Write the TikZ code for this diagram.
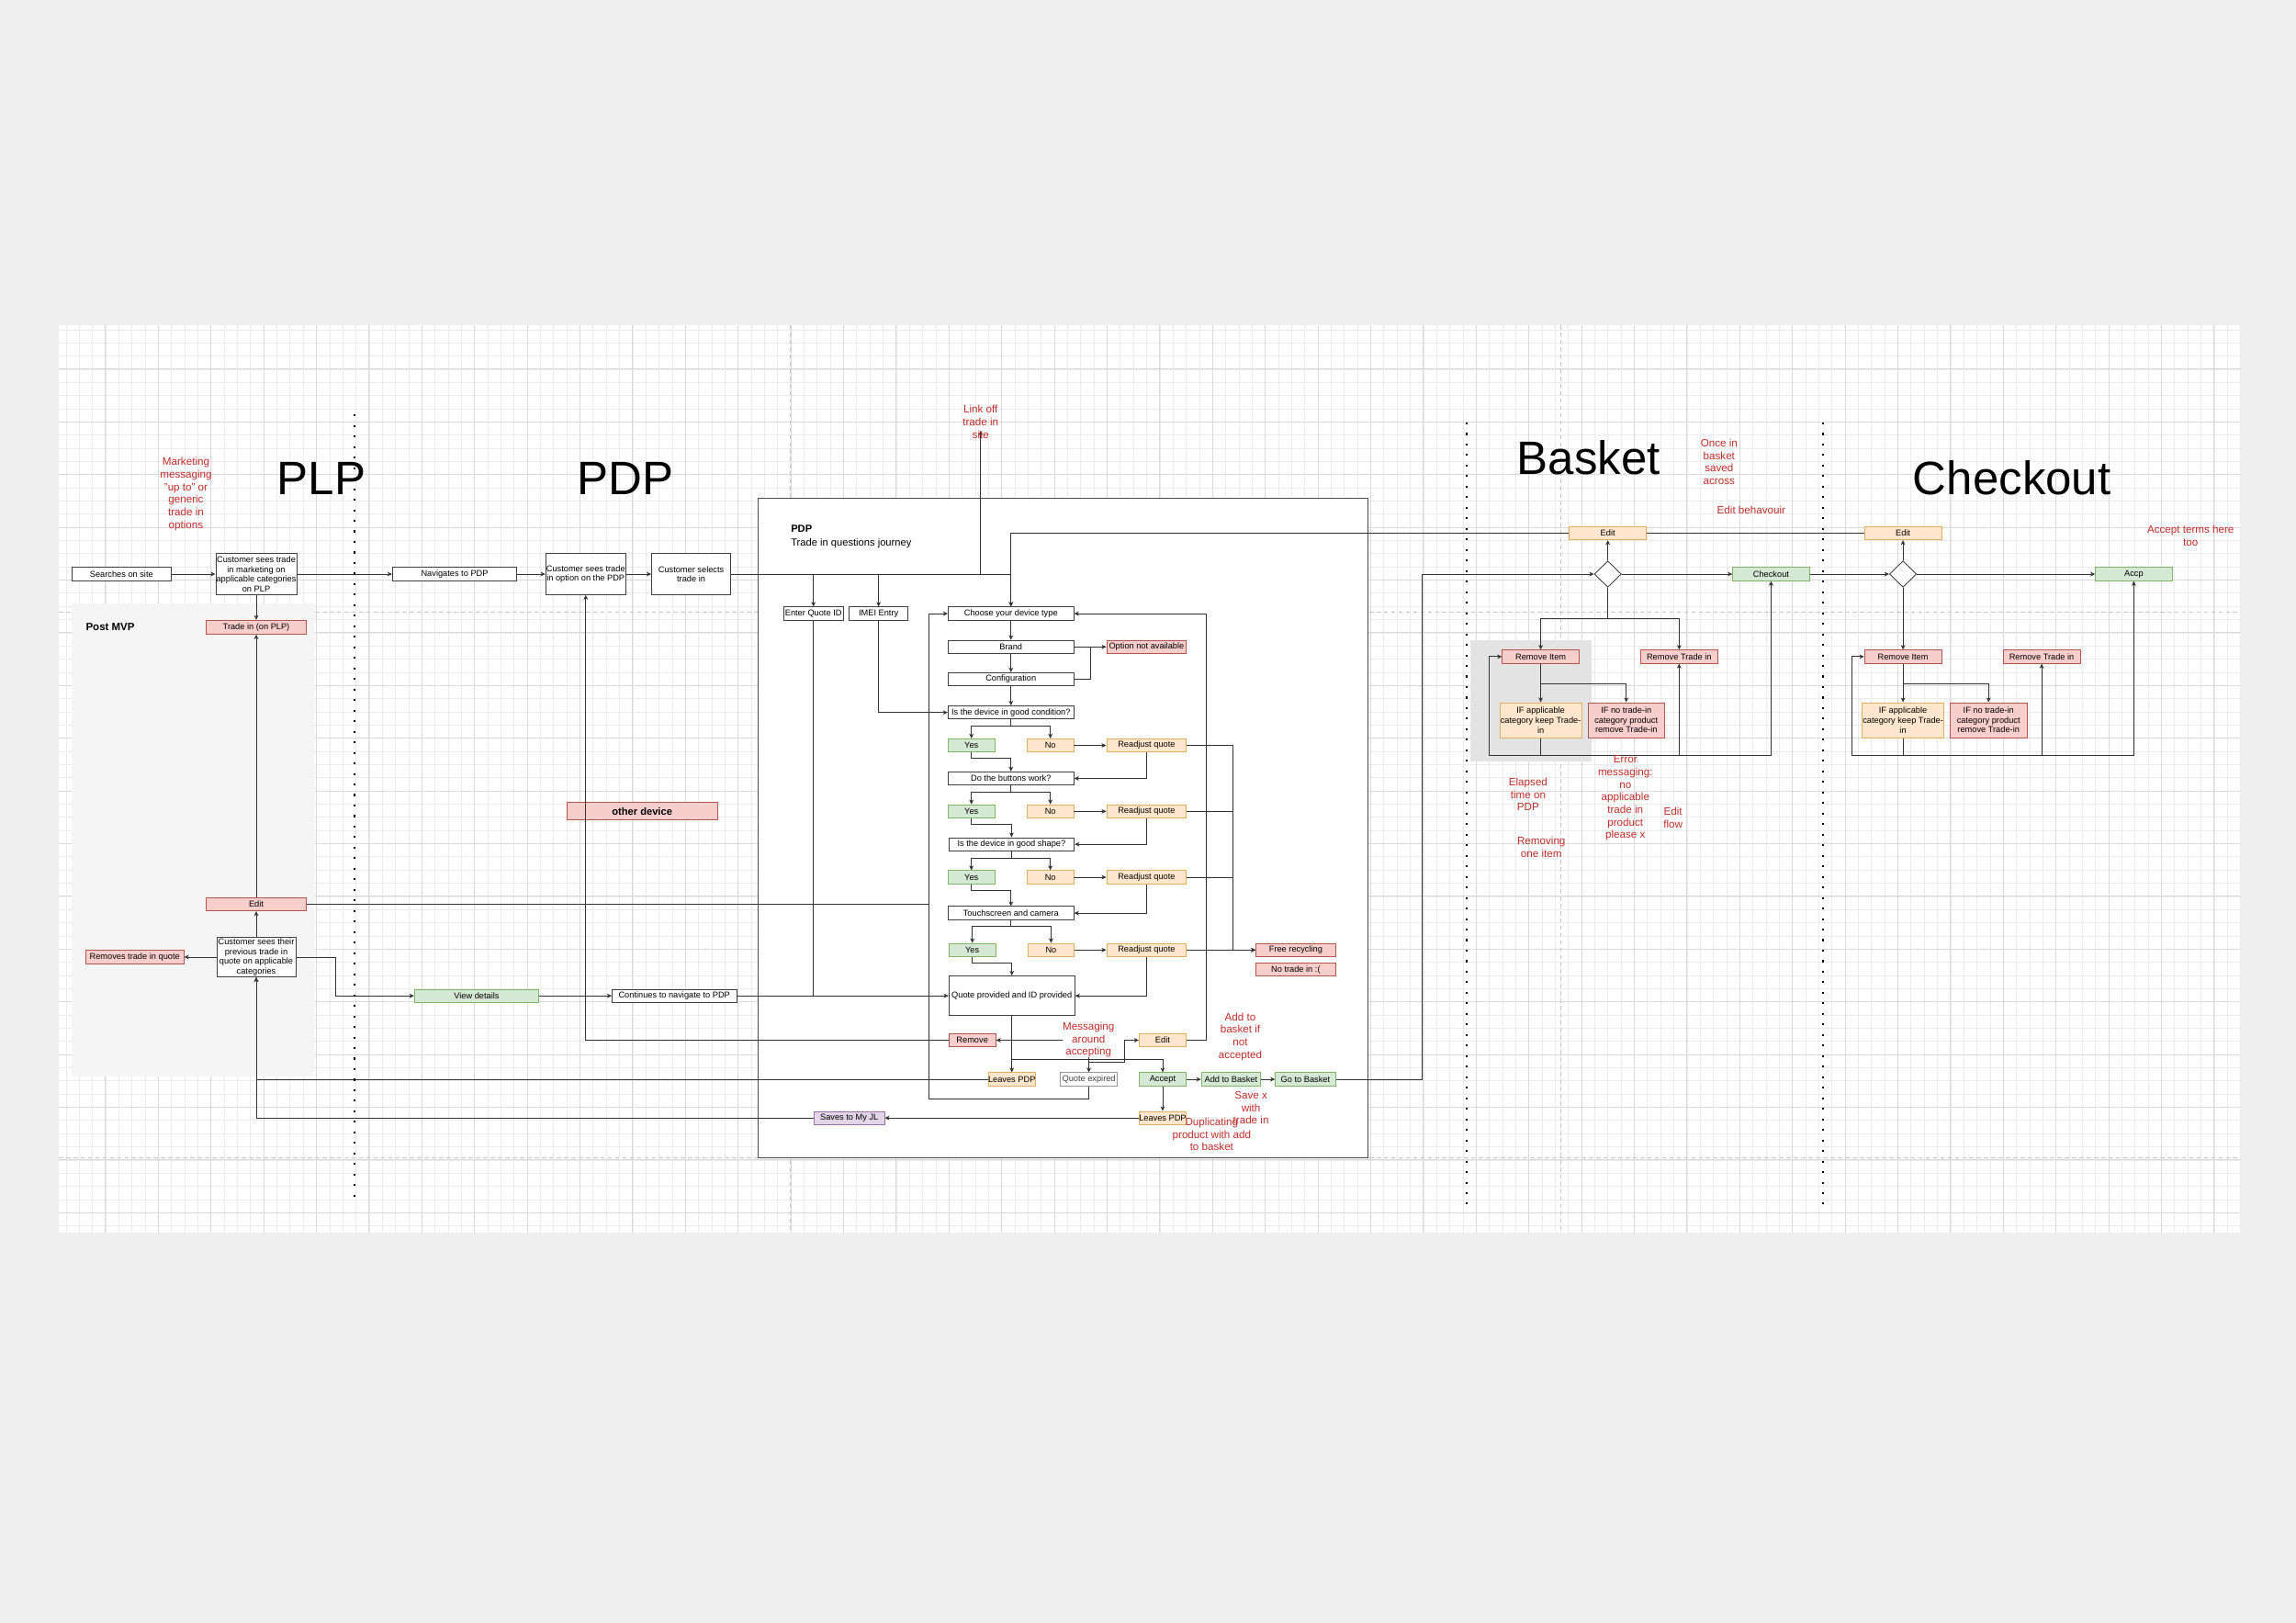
\documentclass[tikz,border=0pt]{standalone}
\usepackage{fontspec}
\setmainfont{Liberation Sans}
\usetikzlibrary{arrows.meta,calc,shapes.geometric}

\definecolor{pagebg}{HTML}{EFEFEF}
\definecolor{pinkfill}{HTML}{F8CECC}
\definecolor{pinkline}{HTML}{B85450}
\definecolor{peachfill}{HTML}{FFE6CC}
\definecolor{peachline}{HTML}{E0B060}
\definecolor{greenfill}{HTML}{D5E8D4}
\definecolor{greenline}{HTML}{82B366}
\definecolor{lilacfill}{HTML}{E1D5E7}
\definecolor{lilacline}{HTML}{9673A6}
\definecolor{notered}{HTML}{BE2D2D}
\definecolor{mvpgray}{HTML}{F5F5F5}
\definecolor{zonegray}{HTML}{E3E3E3}

\begin{document}
\begin{tikzpicture}[x=1pt,y=-1pt,>={Stealth[length=3.2pt,width=3pt,inset=0.9pt]},
  flowbox/.style={draw=black!75,fill=white,line width=0.55pt,inner sep=0.4pt,minimum height=9pt,align=center,font=\fontsize{5.8}{6.6}\selectfont},
  pinkbox/.style={flowbox,draw=pinkline,fill=pinkfill},
  peachbox/.style={flowbox,draw=peachline,fill=peachfill},
  greenbox/.style={flowbox,draw=greenline,fill=greenfill},
  lilacbox/.style={flowbox,draw=lilacline,fill=lilacfill},
  choice/.style={diamond,draw=black!75,fill=white,line width=0.55pt,minimum width=18.4pt,minimum height=18pt,inner sep=0pt},
  rednote/.style={text=notered,align=center,inner sep=0pt,font=\fontsize{7.3}{8.6}\selectfont},
  bigtitle/.style={anchor=base,inner sep=0pt,font=\fontsize{32}{36}\selectfont},
  wire/.style={draw=black!80,line width=0.55pt},
  pagebreak/.style={draw=black!22,line width=0.6pt,dash pattern=on 3pt off 2pt},
  lanedots/.style={draw=black,line width=1.3pt,dash pattern=on 1.3pt off 5.9pt}]
\fill[pagebg] (0,0) rectangle (1568,1108);
\useasboundingbox (0,0) rectangle (1568,1108);
\fill[white] (40,222) rectangle (1530,842);
\draw[black!8,line width=0.3pt,step=9pt] (40,842) grid (1530,222);
\draw[black!15,line width=0.4pt,step=36pt] (40,842) grid (1530,222);
\draw[pagebreak] (40,418) -- (1530,418);
\draw[pagebreak] (40,790.3) -- (1530,790.3);
\draw[pagebreak] (539.5,222) -- (539.5,842);
\draw[pagebreak] (1066,222) -- (1066,842);
\fill[mvpgray] (49,412) rectangle (215.3,735);
\fill[zonegray] (1004,437.4) rectangle (1087,520);
\node[draw=black!70,fill=white,line width=0.6pt,minimum width=417pt,minimum height=450.3pt,inner sep=0pt] (pdpbox) at (726,565.15) {};

\node[bigtitle] (plptitle) at (219.5,337.5) {PLP};
\node[bigtitle] (pdptitle) at (427,337.5) {PDP};
\node[bigtitle] (baskettitle) at (1085,324) {Basket};
\node[bigtitle] (checkouttitle) at (1374,338) {Checkout};
\node[anchor=west,inner sep=0pt,font=\bfseries\fontsize{7.2}{8}\selectfont] (mvplabel) at (58.5,428) {Post MVP};
\node[anchor=west,align=left,inner sep=0pt,font=\fontsize{7}{9.3}\selectfont] (pdplabel) at (540,366.4) {\textbf{PDP}\\Trade in questions journey};

\node[flowbox,minimum width=68pt] (search) at (83,392) {Searches on site};
\node[flowbox,minimum width=54pt,minimum height=28pt] (plpsees) at (175,392) {Customer sees trade\\in marketing on\\applicable categories\\on PLP};
\node[pinkbox,minimum width=68pt,minimum height=9.5pt] (plptrade) at (175,428.3) {Trade in (on PLP)};
\node[pinkbox,minimum width=68pt] (plpedit) at (175,617.5) {Edit};
\node[flowbox,minimum width=54pt,minimum height=27pt] (prevquote) at (175,653.5) {Customer sees their\\previous trade in\\quote on applicable\\categories};
\node[pinkbox,minimum width=67pt] (removesq) at (92,653.5) {Removes trade in quote};
\node[greenbox,minimum width=85pt] (viewdet) at (325.5,680) {View details};
\node[flowbox,minimum width=85pt] (contnav) at (460.5,680) {Continues to navigate to PDP};
\node[flowbox,minimum width=85pt] (navpdp) at (310.5,392) {Navigates to PDP};
\node[flowbox,minimum width=54pt,minimum height=28pt] (pdpsees) at (400,392) {Customer sees trade\\in option on the PDP};
\node[flowbox,minimum width=54pt,minimum height=28pt] (selects) at (472,392) {Customer selects\\trade in};
\node[pinkbox,minimum width=103pt,minimum height=12pt,font=\bfseries\fontsize{7}{8}\selectfont] (otherdev) at (438.5,554) {other device};
\node[lilacbox,minimum width=48pt,minimum height=8.5pt] (savesjl) at (580,763.4) {Saves to My JL};

\node[flowbox,minimum width=41pt] (quoteid) at (555.5,419) {Enter Quote ID};
\node[flowbox,minimum width=40pt] (imei) at (600,419) {IMEI Entry};
\node[flowbox,minimum width=85.8pt] (device) at (690.4,419) {Choose your device type};
\node[flowbox,minimum width=85.8pt] (brand) at (690.4,441.7) {Brand};
\node[pinkbox,minimum width=54.4pt] (notavail) at (783,441.7) {Option not available};
\node[flowbox,minimum width=85.8pt] (config) at (690.4,463.8) {Configuration};
\node[flowbox,minimum width=85.8pt] (cond) at (690.4,486.5) {Is the device in good condition?};
\node[greenbox,minimum width=31.8pt] (yes1) at (663.4,509) {Yes};
\node[peachbox,minimum width=31.8pt] (no1) at (717.3,509) {No};
\node[peachbox,minimum width=54.5pt] (readj1) at (783,509) {Readjust quote};
\node[flowbox,minimum width=85.8pt] (buttons) at (690.4,531.5) {Do the buttons work?};
\node[greenbox,minimum width=31.8pt] (yes2) at (663.4,554) {Yes};
\node[peachbox,minimum width=31.8pt] (no2) at (717.3,554) {No};
\node[peachbox,minimum width=54.5pt] (readj2) at (783,554) {Readjust quote};
\node[flowbox,minimum width=85.8pt] (goodshape) at (690.8,576.5) {Is the device in good shape?};
\node[greenbox,minimum width=31.8pt] (yes3) at (663.4,599) {Yes};
\node[peachbox,minimum width=31.8pt] (no3) at (717.3,599) {No};
\node[peachbox,minimum width=54.5pt] (readj3) at (783,599) {Readjust quote};
\node[flowbox,minimum width=85.8pt] (touch) at (690.4,623.5) {Touchscreen and camera};
\node[greenbox,minimum width=31.8pt] (yes4) at (664,648.7) {Yes};
\node[peachbox,minimum width=31.8pt] (no4) at (717.8,648.7) {No};
\node[peachbox,minimum width=54.5pt] (readj4) at (783,648.7) {Readjust quote};
\node[pinkbox,minimum width=54.2pt] (recycle) at (884.9,648.7) {Free recycling};
\node[pinkbox,minimum width=54.2pt] (notrade) at (884.9,662.1) {No trade in :(};
\node[flowbox,minimum width=86pt,minimum height=27.2pt] (quote) at (691,680) {Quote provided and ID provided};
\node[pinkbox,minimum width=32pt] (pdpremove) at (664,710.3) {Remove};
\node[peachbox,minimum width=32pt] (pdpedit) at (794,710.3) {Edit};
\node[peachbox,minimum width=31.7pt,inner sep=0pt] (leaves1) at (691,737) {Leaves PDP};
\node[flowbox,draw=black!40,text=black!75,minimum width=39pt] (expired) at (743.6,737) {Quote expired};
\node[greenbox,minimum width=32pt] (accept) at (794,737) {Accept};
\node[greenbox,minimum width=40.5pt] (addbasket) at (840.7,737) {Add to Basket};
\node[greenbox,minimum width=41pt] (gobasket) at (891.5,737) {Go to Basket};
\node[peachbox,minimum width=32pt,inner sep=0pt] (leaves2) at (794,763.4) {Leaves PDP};

\node[peachbox,minimum width=52.5pt] (bedit) at (1098,364.1) {Edit};
\node[choice] (bdiamond) at (1098,392) {};
\node[greenbox,minimum width=52.3pt] (checkout) at (1209.5,392) {Checkout};
\node[pinkbox,minimum width=52.4pt] (bremitem) at (1052.2,448.4) {Remove Item};
\node[pinkbox,minimum width=52.6pt] (bremtrade) at (1146.7,448.4) {Remove Trade in};
\node[peachbox,minimum width=52.4pt,minimum height=24pt] (bifapp) at (1052.2,491.8) {IF applicable\\category keep Trade-\\in};
\node[pinkbox,minimum width=52.2pt,minimum height=24pt] (bifno) at (1110.6,491.8) {IF no trade-in\\category product\\remove Trade-in};

\node[peachbox,minimum width=52.6pt] (cedit) at (1299.6,364.1) {Edit};
\node[choice] (cdiamond) at (1299.6,392) {};
\node[greenbox,minimum width=52.3pt] (accp) at (1457.2,392) {Accp};
\node[pinkbox,minimum width=52.6pt] (cremitem) at (1299.6,448.4) {Remove Item};
\node[pinkbox,minimum width=52.6pt] (cremtrade) at (1394.3,448.4) {Remove Trade in};
\node[peachbox,minimum width=52.6pt,minimum height=24pt] (cifapp) at (1299.6,491.8) {IF applicable\\category keep Trade-\\in};
\node[pinkbox,minimum width=52.7pt,minimum height=24pt] (cifno) at (1358,491.8) {IF no trade-in\\category product\\remove Trade-in};

\draw[wire,->] (search) -- (plpsees);
\draw[wire,->] (plpsees) -- (navpdp);
\draw[wire,->] (plpsees) -- (plptrade);
\draw[wire,->] (plpedit) -- (plptrade);
\draw[wire,->] (prevquote) -- (plpedit);
\draw[wire,->] (prevquote) -- (removesq);
\draw[wire,->] (prevquote.east) -- ++(27,0) |- (viewdet.west);
\draw[wire,->] (viewdet) -- (contnav);
\draw[wire,->] (contnav) -- (quote);
\draw[wire,->] (navpdp) -- (pdpsees);
\draw[wire,->] (pdpsees) -- (selects);
\coordinate (linktip) at (669.7,294);
\draw[wire,->] (selects.east) -| (linktip);
\draw[wire,->] (selects.east) -| (device.north);
\draw[wire,->] (quoteid |- selects.east) -- (quoteid.north);
\draw[wire,->] (imei |- selects.east) -- (imei.north);
\draw[wire,->] (imei.south) |- (cond.west);
\draw[wire] (quoteid.south) -- (quoteid.south |- quote.west);
\draw[wire,->] (device) -- (brand);
\draw[wire,->] (brand) -- (config);
\draw[wire,->] (config) -- (cond);
\draw[wire,->] (brand) -- (notavail);
\draw[wire] (config.east) -| ($(brand.east)!0.5!(notavail.west)$);

\draw[wire,->] (cond.south) -- ++(0,4.5) -| (yes1.north);
\draw[wire,->] (cond.south) -- ++(0,4.5) -| (no1.north);
\draw[wire,->] (no1) -- (readj1);
\draw[wire,->] (yes1.south) -- ++(0,4.1) -| (buttons.north);
\draw[wire,->] (readj1.south) |- (buttons.east);
\draw[wire,->] (readj1.east) -- ++(31.3,0) |- (recycle.west);
\draw[wire,->] (buttons.south) -- ++(0,4.5) -| (yes2.north);
\draw[wire,->] (buttons.south) -- ++(0,4.5) -| (no2.north);
\draw[wire,->] (no2) -- (readj2);
\draw[wire,->] (yes2.south) -- ++(0,4.1) -| (goodshape.north);
\draw[wire,->] (readj2.south) |- (goodshape.east);
\draw[wire] (readj2.east) -- ++(31.3,0);
\draw[wire,->] (goodshape.south) -- ++(0,4.5) -| (yes3.north);
\draw[wire,->] (goodshape.south) -- ++(0,4.5) -| (no3.north);
\draw[wire,->] (no3) -- (readj3);
\draw[wire,->] (yes3.south) -- ++(0,4.1) -| (touch.north);
\draw[wire,->] (readj3.south) |- (touch.east);
\draw[wire] (readj3.east) -- ++(31.3,0);
\draw[wire,->] (touch.south) -- ++(0,4.5) -| (yes4.north);
\draw[wire,->] (touch.south) -- ++(0,4.5) -| (no4.north);
\draw[wire,->] (no4) -- (readj4);
\draw[wire,->] (yes4.south) -- ++(0,4.1) -| (quote.north);
\draw[wire,->] (readj4.south) |- (quote.east);
\draw[wire,->] (readj4) -- (recycle);

\path (quote.south) ++(0,29.3) coordinate (qfork);
\draw[wire,->] (quote) -- (leaves1);
\draw[wire,->] (qfork) -| (accept.north);
\draw[wire,->] (qfork) -| (expired.north);
\draw[wire,->] (expired |- qfork) |- (pdpremove.east);
\draw[wire,->] (expired.north) ++(0,-7) -- ++(24.1,0) |- (pdpedit.west);
\draw[wire,->] (pdpremove.west) -| (pdpsees.south);
\draw[wire,->] (pdpedit.east) -- ++(13.3,0) |- (device.east);
\coordinate (loopsw) at (634.5,750.6);
\draw[wire,->] (expired.south) |- (loopsw) |- (device.west);
\draw[wire] (plpedit.east) -- (plpedit.east -| loopsw);
\draw[wire,->] (leaves1.west) -| (prevquote.south);
\draw[wire,->] (accept) -- (addbasket);
\draw[wire,->] (addbasket) -- (gobasket);
\draw[wire,->] (accept) -- (leaves2);
\draw[wire,->] (leaves2) -- (savesjl);
\draw[wire,->] (savesjl.west) -| (prevquote.south);
\draw[wire,->] (gobasket.east) -- ++(59,0) |- (bdiamond.west);

\draw[wire,->] (bdiamond) -- (bedit);
\draw[wire,->] (bedit.west) -| (device.north);
\draw[wire] (cedit) -- (bedit);
\draw[wire,->] (bdiamond) -- (checkout);
\draw[wire,->] (checkout) -- (cdiamond);
\draw[wire,->] (bdiamond.south) -- ++(0,21.3) -| (bremitem.north);
\draw[wire,->] (bdiamond.south) -- ++(0,21.3) -| (bremtrade.north);
\draw[wire,->] (bremitem) -- (bifapp);
\draw[wire,->] (bremitem.south) -- ++(0,13.6) -| (bifno.north);
\coordinate (bloop) at (1016.7,515.8);
\draw[wire,->] (bifapp.south) |- (bloop) |- (bremitem.west);
\draw[wire,->] (bifapp.south) -- ++(0,12) -| (bremtrade.south);
\draw[wire,->] (bifapp.south) -- ++(0,12) -| (checkout.south);

\draw[wire,->] (cdiamond) -- (cedit);
\draw[wire,->] (cdiamond) -- (accp);
\draw[wire,->] (cdiamond) -- (cremitem);
\draw[wire,->] (cremitem) -- (cifapp);
\draw[wire,->] (cremitem.south) -- ++(0,13.6) -| (cifno.north);
\coordinate (cloop) at (1264.4,515.8);
\draw[wire,->] (cifapp.south) |- (cloop) |- (cremitem.west);
\draw[wire,->] (cifapp.south) -- ++(0,12) -| (cremtrade.south);
\draw[wire,->] (cifapp.south) -- ++(0,12) -| (accp.south);

\node[rednote] (mktnote) at (127,337.5) {Marketing\\messaging\\"up to" or\\generic\\trade in\\options};
\node[rednote] (linknote) at (669.7,288) {Link off\\trade in\\site};
\node[rednote,fill=white] (msgnote) at (743.4,710) {Messaging\\around\\accepting};
\node[rednote] (addnote) at (847,708) {Add to\\basket if\\not\\accepted};
\node[rednote] (savenote) at (854.3,756.5) {Save x\\with\\trade in};
\node[rednote] (dupnote) at (827.5,774.5) {Duplicating\\product with add\\to basket};
\node[rednote] (oncenote) at (1174,315.3) {Once in\\basket\\saved\\across};
\node[rednote] (editbehnote) at (1196,348) {Edit behavouir};
\node[rednote] (elapsednote) at (1043.6,542.5) {Elapsed\\time on\\PDP};
\node[rednote] (removingnote) at (1052.6,578.5) {Removing\\one item};
\node[rednote] (errornote) at (1110,545) {Error\\messaging:\\no\\applicable\\trade in\\product\\please x};
\node[rednote] (editflownote) at (1142.5,558.2) {Edit\\flow};
\node[rednote] (termsnote) at (1496,366) {Accept terms here\\too};

\draw[lanedots] (242,283) -- (242,818);
\draw[lanedots] (1001.4,288.5) -- (1001.4,822);
\draw[lanedots] (1245,288.5) -- (1245,822);
\end{tikzpicture}
\end{document}
